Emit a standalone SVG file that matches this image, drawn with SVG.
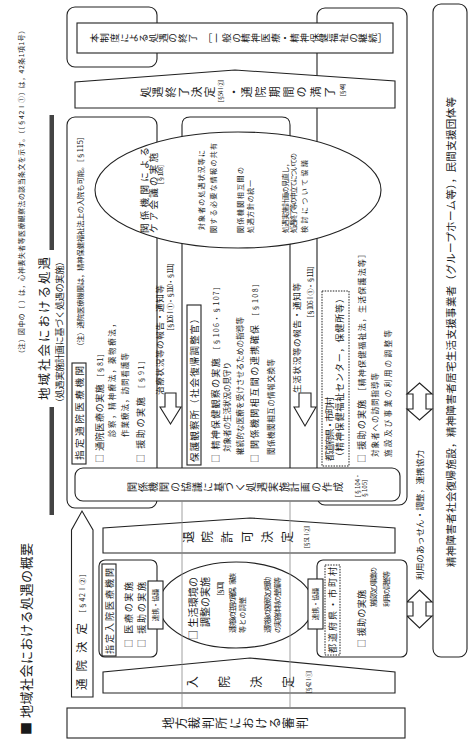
<svg xmlns="http://www.w3.org/2000/svg" width="475" height="740" viewBox="0 0 475 740">
<style>
.ln{fill:none;stroke:#222;stroke-width:1.1}
.wf{fill:#fff;stroke:#222;stroke-width:1.1}
.dt{fill:#fff;stroke:#222;stroke-width:1;stroke-dasharray:1.5 1.2}
.gl{stroke:#888;stroke-width:0.8}
.bar{fill:#444}
text{font-family:"Noto Sans CJK JP","Noto Sans CJK SC",sans-serif;fill:#1a1a1a}
.v{writing-mode:vertical-rl;text-anchor:middle}
</style>
<rect width="475" height="740" fill="#fff"/>

<g id="title">
<text transform="translate(30.9,735) rotate(-90)" font-size="13" textLength="192">■ 地域社会における処遇の概要</text>
<text transform="translate(23.6,357) rotate(-90)" font-size="6.8" textLength="330">（注）図中の〔 〕は，心神喪失者等医療観察法の該当条文を示す。（〔§42Ⅰ①〕は，42条1項1号）</text>
</g>

<g id="header">
<text transform="translate(48.8,400) rotate(-90)" font-size="12.5" textLength="143">地域社会における処遇</text>
<text transform="translate(63.4,407) rotate(-90)" font-size="9" textLength="150">（処遇実施計画に基づく処遇の実施）</text>
<rect class="bar" x="49.5" y="115" width="4.5" height="135"/>
<rect class="bar" x="49.5" y="407" width="4.5" height="108"/>
</g>

<g id="frames">
<rect class="ln" x="67" y="7" width="90" height="60" rx="8"/>
<rect class="ln" x="67" y="117" width="90" height="391" rx="8"/>
<rect class="ln" x="317" y="8" width="90" height="497" rx="8"/>
<path class="ln" d="M182,468 V125 Q182,117 190,117 H282 Q290,117 290,125 V468"/>
</g>

<g id="connectors">
<path class="wf" d="M165,393 H176 V407 H181 L170.5,424 L160,407 H165 Z"/>
<path class="wf" d="M299,393 H311 V407 H316 L305,426 L294,407 H299 Z"/>
<path class="wf" d="M419.5,383 L432,394 H426 V409 H432 L419.5,420 L407,409 H413 V394 H407 Z"/>
<path class="wf" d="M419.5,590 L432,602 H426 V616 H432 L419.5,628 L407,616 H413 V602 H407 Z"/>
</g>

<g id="end-box">
<rect class="wf" x="77" y="23" width="316" height="30"/>
<text class="v" transform="rotate(-90)" x="-38" y="238.5" font-size="9.6" textLength="297">本制度による処遇の終了　［一般の精神医療・精神保健福祉の継続］</text>
</g>

<g id="end-decision">
<polygon class="wf" points="75,108 75,82 235,70 395,81 395,108"/>
<text class="v" transform="rotate(-90)" x="-92" y="177.5" font-size="11" textLength="75">処遇終了決定</text>
<text class="v" transform="rotate(-90)" x="-92" y="281.5" font-size="11" textLength="107">・通院期間の満了</text>
<text transform="translate(223.3,91) rotate(-90)" font-size="6" text-anchor="middle" textLength="30">［§54Ⅰ②］</text>
<text transform="translate(345.3,90) rotate(-90)" font-size="6" text-anchor="middle" textLength="20">［§44］</text>
</g>

<g id="care-meeting">
<ellipse class="wf" cx="238" cy="190" rx="143" ry="58"/>
<text transform="translate(147.6,233) rotate(-90)" font-size="9.5" textLength="86">関係機関による</text>
<text transform="translate(157.1,233) rotate(-90)" font-size="9.5" textLength="80">ケア会議の実施</text>
<text transform="translate(163,188) rotate(-90)" font-size="6.5" textLength="27">［§108］</text>
<text transform="translate(204.2,230) rotate(-90)" font-size="7" textLength="80">対象者の処遇状況等に</text>
<text transform="translate(216.2,233) rotate(-90)" font-size="7" textLength="90">関する必要な情報の共有</text>
<text transform="translate(243.2,233) rotate(-90)" font-size="7" textLength="66">関係機関相互間の</text>
<text transform="translate(253.2,233) rotate(-90)" font-size="7" textLength="53">処遇方針の統一</text>
<text transform="translate(287.7,233) rotate(-90)" font-size="7" textLength="73">処遇実施計画の見直し，</text>
<text transform="translate(296.2,233) rotate(-90)" font-size="7" textLength="80">処遇終了等の申立てについての</text>
<text transform="translate(307.2,233) rotate(-90)" font-size="7" textLength="73">検討について協議</text>
</g>

<g id="outpatient-hospital">
<rect class="ln" x="72" y="363" width="14" height="101"/>
<text transform="translate(82.6,460) rotate(-90)" font-size="9.5" textLength="94">指定通院医療機関</text>
<text transform="translate(82.8,350) rotate(-90)" font-size="7.3" textLength="217">（注）通院医療機関は，精神保健福祉法上の入院も可能。［§115］</text>
<text transform="translate(103.4,463) rotate(-90)" font-size="9" textLength="113">□ 通院医療の実施 <tspan font-size="7">［§81］</tspan></text>
<text transform="translate(115.4,437) rotate(-90)" font-size="7.5" textLength="117">診察，精神療法，薬物療法，</text>
<text transform="translate(128.4,437) rotate(-90)" font-size="7.5" textLength="84">作業療法，訪問看護等</text>
<text transform="translate(144.4,463) rotate(-90)" font-size="9" textLength="106">□ 援助の実施 <tspan font-size="7">［§91］</tspan></text>
</g>

<g id="reports">
<text transform="translate(163.2,395) rotate(-90)" font-size="8.5" textLength="110">治療状況等の報告・通知等</text>
<text transform="translate(172.7,335) rotate(-90)" font-size="7" textLength="76">［§106Ⅰ①・§110・§111］</text>
<text transform="translate(300.2,393) rotate(-90)" font-size="8.5" textLength="110">生活状況等の報告・通知等</text>
<text transform="translate(312.7,322) rotate(-90)" font-size="7" textLength="60">［§106Ⅰ①・§111］</text>
</g>

<g id="probation-office">
<rect class="ln" x="187" y="305" width="14" height="160"/>
<text transform="translate(197.6,462) rotate(-90)" font-size="9.5" textLength="148">保護観察所（社会復帰調整官）</text>
<text transform="translate(218.9,463) rotate(-90)" font-size="9" textLength="180">□ 精神保健観察の実施 <tspan font-size="7">［§106・§107］</tspan></text>
<text transform="translate(230.4,452) rotate(-90)" font-size="7.5" textLength="90">対象者の生活状況の見守り</text>
<text transform="translate(242.9,455) rotate(-90)" font-size="7.5" textLength="138">継続的な医療を受けさせるための指導等</text>
<text transform="translate(258.4,463) rotate(-90)" font-size="9" textLength="183">□ 関係機関相互間の連携確保 <tspan font-size="7">［§108］</tspan></text>
<text transform="translate(274.4,455) rotate(-90)" font-size="7.5" textLength="96">関係機関相互の情報交換等</text>
</g>

<g id="prefecture">
<rect class="dt" x="322" y="291" width="27" height="175"/>
<text transform="translate(333.4,461) rotate(-90)" font-size="9" textLength="64">都道府県・市町村</text>
<text transform="translate(343.4,461) rotate(-90)" font-size="9" textLength="167">（精神保健福祉センター，保健所等）</text>
<text transform="translate(365.4,463) rotate(-90)" font-size="9" textLength="213">□ 援助の実施 <tspan font-size="8">［精神保健福祉法，生活保護法等］</tspan></text>
<text transform="translate(377.9,457) rotate(-90)" font-size="7.5" textLength="84">対象者への訪問指導等</text>
<text transform="translate(390.9,457) rotate(-90)" font-size="7.5" textLength="127">施設及び事業の利用の調整等</text>
</g>

<g id="plan-box">
<rect class="wf" x="75" y="468" width="325" height="33" rx="8"/>
<text class="v" transform="rotate(-90)" x="-487" y="235" font-size="10" textLength="216">関係機関の協議に基づく処遇実施計画の作成</text>
<text transform="translate(359.8,487) rotate(-90)" font-size="6" text-anchor="middle">［§104・</text>
<text transform="translate(366.8,487) rotate(-90)" font-size="6" text-anchor="middle">§105］</text>
</g>

<g id="discharge">
<polygon class="ln" points="103,553 103,528 250,518 395,528 395,553"/>
<text class="v" transform="rotate(-90)" x="-537" y="237.5" font-size="12" textLength="111">退院許可決定</text>
<text transform="translate(309.3,552) rotate(-90)" font-size="6" textLength="30">［§51Ⅰ②］</text>
</g>

<g id="outpatient-decision">
<polygon class="wf" points="71.5,697 71.5,530 82,511 93,530 93,697"/>
<text transform="translate(86.4,690) rotate(-90)" font-size="11.5" textLength="67">通院決定</text>
<text transform="translate(84.7,617) rotate(-90)" font-size="7" textLength="47">［§42Ⅰ②］</text>
</g>

<g id="inpatient-hospital">
<rect class="wf" x="99" y="560" width="58" height="97" rx="6"/>
<rect class="ln" x="102" y="564" width="14" height="92"/>
<text transform="translate(112.9,654) rotate(-90)" font-size="9" textLength="86">指定入院医療機関</text>
<text transform="translate(131.9,648) rotate(-90)" font-size="9" textLength="66">□ 医療の実施</text>
<text transform="translate(144.9,648) rotate(-90)" font-size="9" textLength="66">□ 援助の実施</text>
</g>

<g id="environment">
<ellipse class="wf" cx="236" cy="605" rx="77" ry="43"/>
<text transform="translate(196.8,640) rotate(-90)" font-size="10" textLength="63">□ 生活環境の</text>
<text transform="translate(208.8,627) rotate(-90)" font-size="10" textLength="50">調整の実施</text>
<text transform="translate(222.7,600) rotate(-90)" font-size="7" textLength="23">［§101］</text>
<text transform="translate(234.7,633) rotate(-90)" font-size="7" textLength="60">退院後の住居の確保，家族</text>
<text transform="translate(244.7,633) rotate(-90)" font-size="7" textLength="36">等との調整</text>
<text transform="translate(269.7,633) rotate(-90)" font-size="7" textLength="56">退院後の医療及び援助</text>
<text transform="translate(279.7,633) rotate(-90)" font-size="7" textLength="56">の実施体制の整備等</text>
</g>

<g id="prefecture-h">
<rect class="wf" x="317" y="560" width="90" height="97" rx="6"/>
<rect class="dt" x="325" y="565" width="15" height="90"/>
<text transform="translate(335.9,653) rotate(-90)" font-size="9" textLength="86">都道府県・市町村</text>
<text transform="translate(365.4,648) rotate(-90)" font-size="9" textLength="58">□ 援助の実施</text>
<text transform="translate(375.7,607) rotate(-90)" font-size="7" textLength="40">施設及び事業の</text>
<text transform="translate(388.7,607) rotate(-90)" font-size="7" textLength="36">利用の調整等</text>
</g>

<g id="liaison">
<rect class="wf" x="148" y="581" width="15" height="48"/>
<text transform="translate(158,605) rotate(-90)" font-size="6.5" text-anchor="middle">連携・協議</text>
<rect class="wf" x="308" y="579" width="15" height="50"/>
<text transform="translate(318,604) rotate(-90)" font-size="6.5" text-anchor="middle">連携・協議</text>
</g>

<g id="admission">
<polygon class="ln" points="103,693 103,672 250,658 395,672 395,693"/>
<text class="v" transform="rotate(-90)" x="-682" y="240" font-size="12" textLength="108">入院決定</text>
<text transform="translate(311.3,697) rotate(-90)" font-size="6" textLength="30">［§42Ⅰ①］</text>
</g>

<g id="court">
<rect class="wf" x="67" y="708" width="338" height="30"/>
<text class="v" transform="rotate(-90)" x="-723" y="235" font-size="12" textLength="146">地方裁判所における審判</text>
</g>

<g id="gridlines">
<line class="gl" x1="182" y1="501" x2="182" y2="708"/>
<line class="gl" x1="290" y1="501" x2="290" y2="708"/>
</g>

<g id="welfare">
<rect class="ln" x="433" y="4" width="34" height="653" rx="8"/>
<text transform="translate(455,567) rotate(-90)" font-size="10.5" textLength="470">精神障害者社会復帰施設，精神障害者居宅生活支援事業者（グループホーム等），民間支援団体等</text>
<text transform="translate(423.2,515) rotate(-90)" font-size="8.5" text-anchor="middle" textLength="130">利用のあっせん・調整，連携協力</text>
</g>
</svg>
